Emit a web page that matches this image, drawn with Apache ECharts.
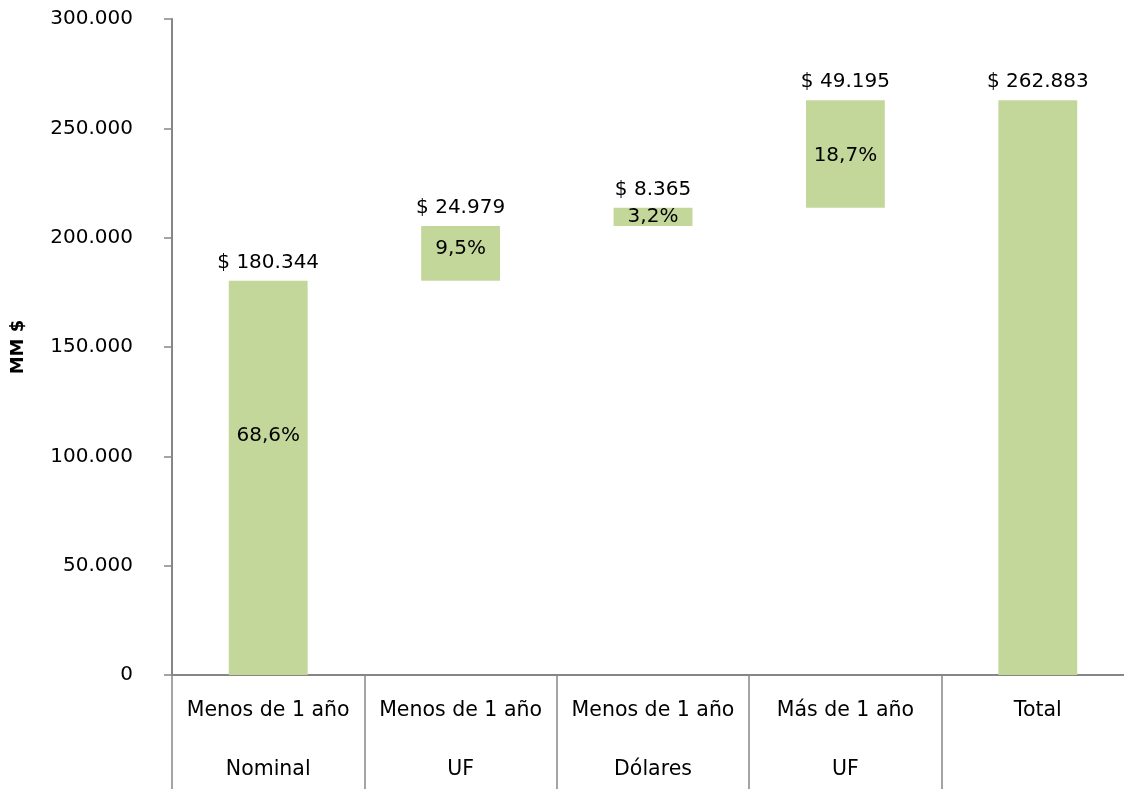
<!DOCTYPE html>
<html>
<head>
<meta charset="utf-8">
<script src="https://cdn.jsdelivr.net/npm/echarts@6/dist/echarts.min.js"></script>
<style>
  html, body { margin: 0; padding: 0; background: #fff; }
  #chart { width: 1124px; height: 789px; }
</style>
</head>
<body>
<div id="chart"></div>
<script>
const categories = ['Menos de 1 año', 'Menos de 1 año', 'Menos de 1 año', 'Más de 1 año', 'Total'];
const subCategories = ['Nominal', 'UF', 'Dólares', 'UF', ''];
const baseValues = [0, 180344, 205323, 213688, 0];
const amounts = [180344, 24979, 8365, 49195, 262883];
const amountLabels = ['$ 180.344', '$ 24.979', '$ 8.365', '$ 49.195', '$ 262.883'];
const shareLabels = ['68,6%', '9,5%', '3,2%', '18,7%', ''];
const yTicks = ['0', '50.000', '100.000', '150.000', '200.000', '250.000', '300.000'];

const font = 'DejaVu Sans, Verdana, sans-serif';
const green = '#C4D79B';
const axisGray = '#868686';

const chart = echarts.init(document.getElementById('chart'));

// the first share label sits higher than the bar centre in the original
const shareOffsets = [[0, -42], [0, -5], [0, 0], [0, 2], [0, 0]];

chart.setOption({
  animation: false,
  backgroundColor: '#fff',
  // the original plot runs a little past the right edge of the picture
  grid: { left: 172, right: -10, top: 19, bottom: 114, containLabel: false, outerBoundsMode: 'none' },
  xAxis: {
    type: 'category',
    data: categories.map((c, i) => c + '\n' + (subCategories[i] || ' ')),
    axisLine: { lineStyle: { color: axisGray, width: 2 } },
    axisTick: { show: true, interval: 0, length: 114, alignWithLabel: false, lineStyle: { color: axisGray, width: 1.5 } },
    axisLabel: {
      interval: 0,
      color: '#000',
      fontFamily: font,
      fontSize: 20.5,
      lineHeight: 59,
      margin: 6,
    },
  },
  yAxis: {
    type: 'value',
    min: 0,
    max: 300000,
    interval: 50000,
    name: 'MM $',
    nameLocation: 'middle',
    nameRotate: 90,
    nameGap: 145,
    nameTextStyle: { color: '#000', fontFamily: font, fontSize: 18, fontWeight: 'bold' },
    axisLine: { show: true, lineStyle: { color: axisGray, width: 2 } },
    axisTick: { show: true, length: 8, lineStyle: { color: axisGray, width: 1.5 } },
    splitLine: { show: false },
    axisLabel: {
      color: '#000',
      fontFamily: font,
      fontSize: 20,
      margin: 39,
      formatter: (v) => yTicks[Math.round(v / 50000)],
    },
  },
  series: [
    {
      type: 'bar',
      stack: 'w',
      data: baseValues,
      itemStyle: { color: 'transparent' },
      silent: true,
      barWidth: '41%',
    },
    {
      type: 'bar',
      stack: 'w',
      barWidth: '41%',
      data: amounts.map((v, i) => ({
        value: v,
        label: { offset: shareOffsets[i] },
      })),
      itemStyle: { color: green },
      label: {
        show: true,
        position: 'inside',
        color: '#000',
        fontFamily: font,
        fontSize: 20,
        formatter: (p) => shareLabels[p.dataIndex],
      },
    },
    {
      // top value labels, drawn on an empty stacked bar
      type: 'bar',
      stack: 'w',
      barWidth: '41%',
      data: amounts.map(() => 0),
      itemStyle: { color: 'transparent' },
      label: {
        show: true,
        position: 'top',
        distance: 8,
        color: '#000',
        fontFamily: font,
        fontSize: 20,
        formatter: (p) => amountLabels[p.dataIndex],
      },
    },
  ],
});
</script>
</body>
</html>
